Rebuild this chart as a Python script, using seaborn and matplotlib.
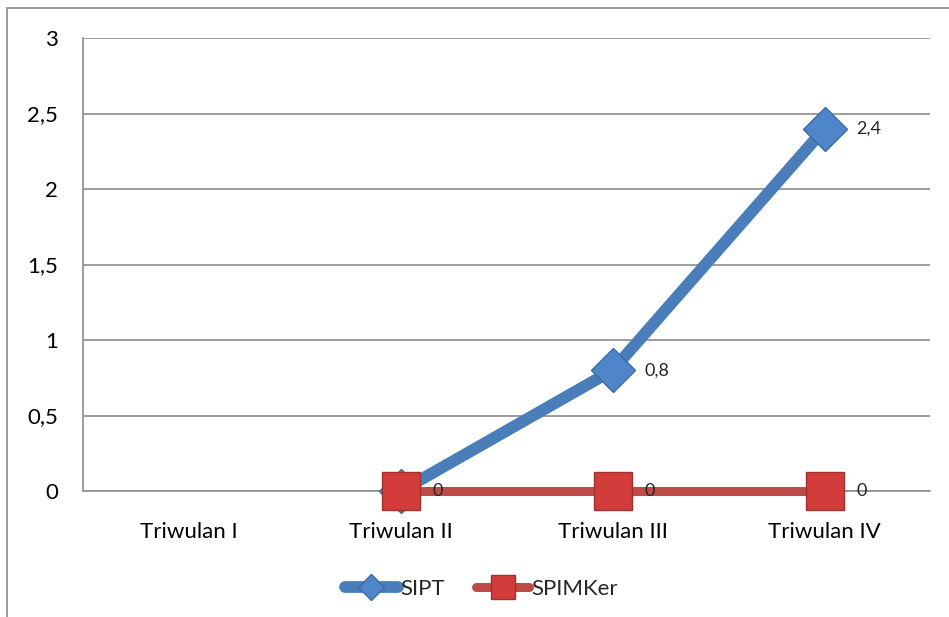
import numpy as np
import pandas as pd
import matplotlib
matplotlib.use("Agg")
import matplotlib.pyplot as plt
import seaborn as sns
from matplotlib.patches import Rectangle
from matplotlib.ticker import FuncFormatter

kategori = ["Triwulan I", "Triwulan II", "Triwulan III", "Triwulan IV"]
sipt = [np.nan, 0, 0.8, 2.4]
spimker = [np.nan, 0, 0, 0]

df = pd.DataFrame({"pos": range(len(kategori)), "SIPT": sipt, "SPIMKer": spimker})

sns.set_style("white")
plt.rcParams["font.family"] = ["Lato", "DejaVu Sans"]

fig = plt.figure(figsize=(9.49, 6.17), dpi=100)
ax = fig.add_axes([0.0875, 0.2042, 0.893, 0.7342])

# bingkai
fig.patches.append(Rectangle((7 / 949, -0.5), 2, 1.5 - 8 / 617, transform=fig.transFigure,
                             fill=False, edgecolor="#8c8c8c", linewidth=1.2))

biru = "#4a7ebb"
merah = "#be4b48"
sns.lineplot(data=df, x="pos", y="SIPT", ax=ax, color=biru, linewidth=8.5,
             marker="D", markersize=22, markerfacecolor="#4f85c9",
             markeredgecolor="#3a6aa5", markeredgewidth=1, label="SIPT",
             clip_on=False, zorder=3)
sns.lineplot(data=df, x="pos", y="SPIMKer", ax=ax, color=merah, linewidth=6.5,
             marker="s", markersize=28, markerfacecolor="#d23c3a",
             markeredgecolor="#a0302e", markeredgewidth=1, label="SPIMKer",
             clip_on=False, zorder=4)

def koma(v):
    return ("%g" % v).replace(".", ",")

for i, v in enumerate(sipt):
    if not np.isnan(v) and v > 0:
        ax.text(i + 0.15, v, koma(v), fontsize=13, va="center", ha="left", zorder=5)
for i, v in enumerate(spimker):
    if not np.isnan(v):
        ax.text(i + 0.15, v, koma(v), fontsize=13, va="center", ha="left", zorder=5)

ax.set_xlim(-0.5, 3.5)
ax.set_ylim(0, 3)
ax.set_yticks(np.arange(0, 3.01, 0.5))
ax.yaxis.set_major_formatter(FuncFormatter(lambda v, p: koma(v)))
ax.set_xticks(range(len(kategori)))
ax.set_xticklabels(kategori)
ax.tick_params(axis="both", length=0, labelsize=16, colors="black")
ax.tick_params(axis="y", pad=18)
ax.tick_params(axis="x", pad=22)
ax.set_xlabel("")
ax.set_ylabel("")
ax.grid(axis="y", color="#8c8c8c", linewidth=1.2)
for s in ["top", "right"]:
    ax.spines[s].set_visible(False)
for s in ["left", "bottom"]:
    ax.spines[s].set_color("#8c8c8c")
    ax.spines[s].set_linewidth(1.2)
ax.set_axisbelow(True)

leg = ax.legend(loc="upper center", bbox_to_anchor=(0.47, -0.15), ncol=2, frameon=False,
                fontsize=16, handlelength=2.4, handletextpad=0.1, columnspacing=1.4,
                markerscale=0.6)

fig.savefig("out.png", dpi=100)
